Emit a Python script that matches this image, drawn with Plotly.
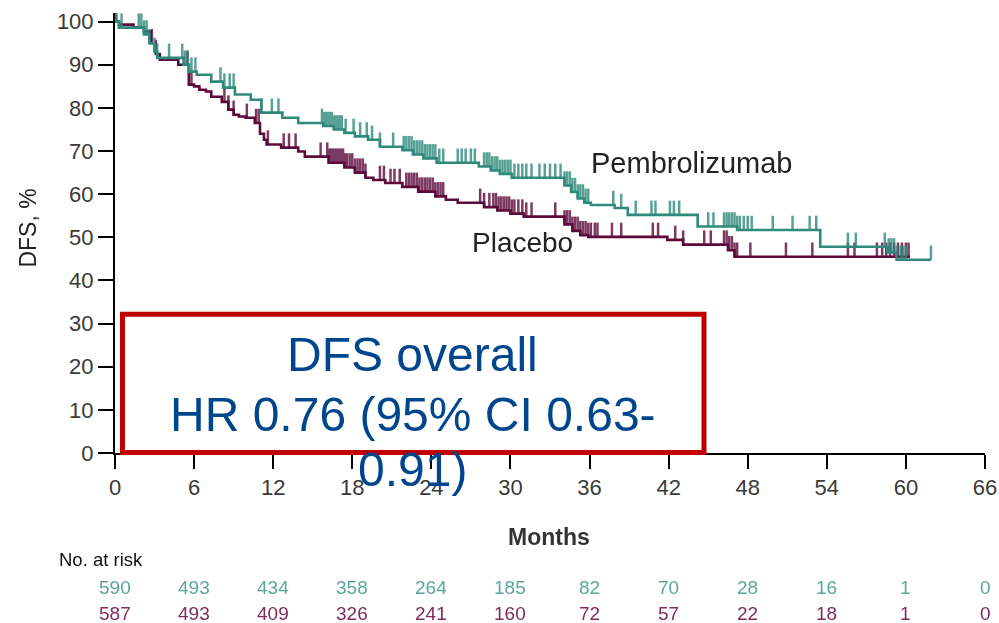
import numpy as np
import plotly.graph_objects as go

# Kaplan-Meier step data (months, DFS %)
pem_time = [0, 0.3, 2.2, 2.6, 3.0, 3.2, 5.2, 5.6, 6.2, 7.3, 8.2, 9.1, 10.3, 11.1, 12.7,
            13.9, 15.8, 16.6, 17.4, 18.2, 19.2, 20.1, 21.8, 22.6, 23.4, 24.4, 27.6, 28.5,
            29.2, 30.1, 34.1, 34.6, 35.1, 35.6, 36.1, 37.9, 38.9, 44.2, 47.2, 53.5, 58.6,
            59.3, 61.9]
pem_surv = [100, 98.6, 97.0, 95.0, 93.0, 91.6, 90.0, 88.4, 87.7, 86.1, 84.7, 83.1, 81.9,
            78.9, 77.7, 76.5, 75.8, 75.0, 74.2, 73.4, 72.6, 71.0, 70.2, 69.2, 68.3, 67.3,
            66.4, 65.5, 64.7, 63.8, 62.0, 60.5, 59.0, 58.0, 57.5, 56.8, 55.2, 52.5, 51.7,
            47.8, 46.5, 44.8, 44.8]

plc_time = [0, 0.3, 1.4, 2.2, 2.7, 3.1, 3.4, 4.8, 5.6, 6.0, 6.4, 6.9, 7.3, 8.1, 8.6, 9.0,
            9.4, 9.9, 10.6, 11.0, 11.3, 11.5, 12.6, 13.9, 14.4, 16.2, 17.4, 18.2, 19.0,
            19.6, 20.5, 21.8, 23.0, 24.3, 25.1, 26.0, 28.0, 29.0, 30.0, 31.0, 34.1, 34.7,
            35.3, 35.9, 41.9, 43.1, 46.5, 47.0, 60.3]
plc_surv = [100, 99.3, 98.6, 97.7, 95.0, 92.5, 91.2, 90.0, 85.4, 85.0, 84.2, 83.8, 82.6,
            81.4, 79.6, 78.4, 78.0, 77.7, 76.5, 74.0, 72.6, 71.5, 70.8, 69.9, 68.7, 67.3,
            66.2, 65.0, 63.8, 63.3, 62.6, 61.7, 60.6, 59.5, 58.7, 58.0, 57.0, 56.2, 55.5,
            54.8, 53.0, 51.5, 50.5, 50.1, 49.4, 48.3, 47.0, 45.5, 45.5]

# Censoring times (months)
pem_cens = [0.05, 0.5, 1.8, 2.0, 2.2, 2.4, 2.6, 3.0, 3.2, 4.1, 5.1, 5.3, 5.5, 5.8, 6.1,
            8.0, 8.3, 8.7, 9.0, 11.1, 11.9, 12.4,
            15.7, 15.85, 16.0, 16.15, 16.3, 16.45, 16.6, 16.75, 16.9, 17.05, 17.2, 17.5,
            18.1, 18.6, 19.1, 19.5, 20.1, 21.1, 21.9,
            22.1, 22.3, 22.5, 22.7, 22.9, 23.1, 23.3, 23.5, 23.7, 23.9, 24.1, 24.3, 24.6,
            24.9, 26.0, 26.3, 26.6, 27.0, 27.3,
            28.0, 28.2, 28.4, 28.6, 28.8, 29.0, 29.2, 29.4, 29.6, 29.8, 30.0, 30.3, 30.6,
            30.9, 31.2, 31.6, 32.2, 32.6, 33.0, 33.4, 33.8,
            34.1, 34.3, 34.5, 34.7, 34.9, 35.1, 35.3, 35.5, 35.7, 35.9,
            37.8, 38.4, 39.5, 40.7, 41.0, 42.1, 42.4, 42.8, 45.0, 45.4,
            46.2, 46.4, 46.6, 46.8, 47.0, 47.2, 47.4, 47.7, 48.0, 48.3,
            49.9, 51.4, 52.7, 53.2, 55.6, 56.2, 58.4, 58.7, 58.9, 59.1, 59.3, 59.6, 59.8,
            60.0, 61.9]
plc_cens = [0.1, 2.8, 3.1, 5.5, 5.8, 8.3, 8.6, 9.0, 10.0, 10.7, 10.9, 11.6, 12.8, 13.2,
            13.7, 15.6,
            16.1, 16.25, 16.4, 16.55, 16.7, 16.85, 17.0, 17.15, 17.3, 17.45, 17.6, 17.8,
            18.0, 18.2, 18.4, 18.6, 18.8, 19.0,
            20.1, 20.4, 20.9, 21.2, 21.6,
            22.1, 22.3, 22.5, 22.7, 22.9, 23.1, 23.3, 23.5, 23.7, 23.9, 24.1, 24.3, 24.5,
            24.7, 24.9,
            27.7, 28.0, 28.4, 28.7, 28.9, 29.1, 29.3, 29.5, 29.7, 29.9, 30.1, 30.3, 30.6,
            30.9, 31.2, 31.6,
            33.4, 34.1, 34.3, 34.5, 34.7, 34.9, 35.1, 35.3, 35.5, 35.7, 35.9, 36.1, 36.4,
            36.6, 37.7, 38.4, 40.8, 41.2, 42.5, 43.1, 44.7, 45.2,
            46.2, 46.4, 46.6, 46.8, 47.0, 47.2, 48.2, 50.9, 52.9, 55.6, 56.1,
            57.8, 58.2, 58.5, 58.8, 59.1, 59.4, 59.7, 60.0, 60.2]

# Numbers at risk
risk_months = [0, 6, 12, 18, 24, 30, 36, 42, 48, 54, 60, 66]
pem_risk = [590, 493, 434, 358, 264, 185, 82, 70, 28, 16, 1, 0]
plc_risk = [587, 493, 409, 326, 241, 160, 72, 57, 22, 18, 1, 0]

y_ticks = list(range(0, 101, 10))

TEAL = "#2f8a7b"
PURPLE = "#5c0a3a"
TEAL_TXT = "#58a898"
PURPLE_TXT = "#7e2c5c"
BLUE = "#00468c"
RED = "#c00000"
SANS = "Liberation Sans, Arial, sans-serif"
TICK_UP = 3.3  # censor mark height in % units


def step_value(times, surv, t):
    idx = np.searchsorted(np.asarray(times), np.asarray(t), side="right") - 1
    return np.asarray(surv)[idx]


def label(x, y, text, size, color, xref="paper", yref="paper", **kw):
    d = dict(x=x, y=y, xref=xref, yref=yref, text=text, showarrow=False,
             xanchor="center", yanchor="middle",
             font=dict(family=SANS, size=size, color=color))
    d.update(kw)
    return d


fig = go.Figure()

for times, surv, cens, col in [(plc_time, plc_surv, plc_cens, PURPLE),
                               (pem_time, pem_surv, pem_cens, TEAL)]:
    fig.add_trace(go.Scatter(x=times, y=surv, mode="lines", line_shape="hv",
                             line=dict(color=col, width=2.6), hoverinfo="skip"))
    cy = step_value(times, surv, cens)
    fig.add_trace(go.Scatter(
        x=cens, y=cy, mode="markers", cliponaxis=False, hoverinfo="skip",
        marker=dict(size=1, color="rgba(0,0,0,0)"),
        error_y=dict(type="data", symmetric=False, array=[TICK_UP] * len(cens),
                     arrayminus=[0] * len(cens), width=0, thickness=2.5, color=col),
        opacity=0.8))

annotations = []
# curve labels
annotations.append(label(43.7, 67.3, "Pembrolizumab", 29, "#222", xref="x", yref="y"))
annotations.append(label(30.9, 48.7, "Placebo", 28, "#222", xref="x", yref="y"))
# axis titles
annotations.append(label(-0.1, 0.51, "DFS, %", 23, "#222", textangle=-90))
annotations.append(label(0.499, -0.19, "<b>Months</b>", 23, "#333"))
# numbers at risk
annotations.append(label(-0.067, -0.241, "No. at risk", 18.5, "#111", xanchor="left"))
for m, a, b in zip(risk_months, pem_risk, plc_risk):
    annotations.append(label(m, -0.306, str(a), 19, TEAL_TXT, xref="x"))
    annotations.append(label(m, -0.364, str(b), 19, PURPLE_TXT, xref="x"))
# hazard ratio callout
for txt, yy in [("DFS overall", 0.225), ("HR 0.76 (95% CI 0.63-", 0.088),
                ("0.91)", -0.038)]:
    annotations.append(label(0.342, yy, txt, 48, BLUE))

fig.add_shape(type="rect", xref="paper", yref="paper", x0=0.0086, x1=0.677,
              y0=0.001, y1=0.3155, line=dict(color=RED, width=5),
              fillcolor="rgba(255,255,255,0)", layer="above")

axis_common = dict(showgrid=False, zeroline=False, automargin=False,
                   showline=True, linecolor="black", linewidth=2, ticks="outside",
                   tickwidth=2, tickcolor="black",
                   tickfont=dict(family=SANS, size=22, color="#3a3a3a"))

fig.update_layout(
    width=999, height=623, margin=dict(l=115, r=14, t=13, b=170),
    paper_bgcolor="white", plot_bgcolor="white", showlegend=False,
    annotations=annotations,
    xaxis=dict(range=[0, 66], tickvals=risk_months, ticklen=14, **axis_common),
    yaxis=dict(range=[0, 102], tickvals=y_ticks, ticklen=15, **axis_common),
)

fig.write_html("out.html")
